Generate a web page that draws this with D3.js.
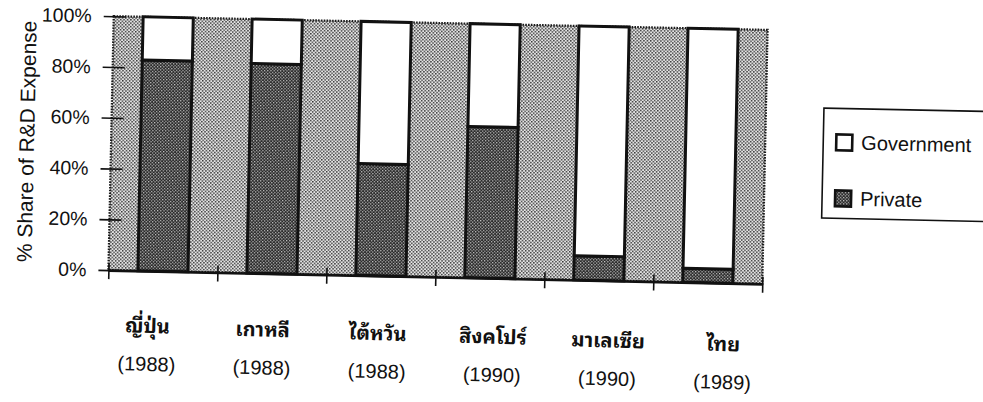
<!DOCTYPE html>
<html>
<head>
<meta charset="utf-8">
<script src="https://cdn.jsdelivr.net/npm/d3@7"></script>
<style>
  html, body { margin: 0; padding: 0; background: #ffffff; }
  svg { display: block; }
  .lat { font-family: "Liberation Sans", Arial, sans-serif; fill: #111; }
  .thai { font-family: "Noto Sans Thai Looped", "Garuda", "Loma", "Laksaman", "Norasi", "Tlwg Typo", "Noto Sans Thai", sans-serif; font-weight: bold; fill: #111; }
</style>
</head>
<body>
<svg id="chart" width="983" height="402"></svg>
<script>
// Country labels (Thai) and the survey year of each figure
const categories = ["ญี่ปุ่น", "เกาหลี", "ไต้หวัน", "สิงคโปร์", "มาเลเซีย", "ไทย"];
const years = ["(1988)", "(1988)", "(1988)", "(1990)", "(1990)", "(1989)"];

// Share of R&D expense by source, in percent
const privateShare = [83, 82.5, 44, 59.5, 9.5, 5.5];
const governmentShare = [17, 17.5, 56, 40.5, 90.5, 94.5];

const seriesNames = ["Private", "Government"];
const legendOrder = ["Government", "Private"];
const yTickValues = [0, 20, 40, 60, 80, 100];

const svg = d3.select("#chart");
const defs = svg.append("defs");

// Light halftone used behind the bars
const bgPat = defs.append("pattern")
  .attr("id", "halftoneLight").attr("patternUnits", "userSpaceOnUse")
  .attr("width", 3.4).attr("height", 3.4);
bgPat.append("rect").attr("width", 3.4).attr("height", 3.4).attr("fill", "#e4e4e4");
bgPat.append("rect").attr("x", 0).attr("y", 0).attr("width", 1.45).attr("height", 1.45).attr("fill", "#333");
bgPat.append("rect").attr("x", 1.7).attr("y", 1.7).attr("width", 1.45).attr("height", 1.45).attr("fill", "#333");

// Dark hatched halftone for the private share
const pvPat = defs.append("pattern")
  .attr("id", "halftoneDark").attr("patternUnits", "userSpaceOnUse")
  .attr("width", 3.2).attr("height", 3.2);
pvPat.append("rect").attr("width", 3.2).attr("height", 3.2).attr("fill", "#2a2a2a");
pvPat.append("rect").attr("x", 0).attr("y", 0).attr("width", 1.2).attr("height", 1.2).attr("fill", "#c8c8c8");
pvPat.append("rect").attr("x", 1.6).attr("y", 1.6).attr("width", 1.2).attr("height", 1.2).attr("fill", "#c8c8c8");

const fills = { Private: "url(#halftoneDark)", Government: "#ffffff" };

// The whole figure sits slightly tilted on the page
const g = svg.append("g").attr("transform", "rotate(1.2, 438, 150)");

const x0 = 111, x1 = 765, yTop = 23, yBot = 277;

const x = d3.scaleBand().domain(categories).range([x0, x1])
  .paddingInner(0.54).paddingOuter(0.27);
const xEdge = d3.scaleLinear().domain([0, categories.length]).range([x0, x1]);
const y = d3.scaleLinear().domain([0, 100]).range([yBot, yTop]);
const xLabel = d3.scalePoint().domain(categories).range([151, 727]);

// Plot background with dotted frame
g.append("rect")
  .attr("x", x0).attr("y", yTop).attr("width", x1 - x0).attr("height", yBot - yTop)
  .attr("fill", "url(#halftoneLight)")
  .attr("stroke", "#1a1a1a").attr("stroke-width", 2.2).attr("stroke-dasharray", "1.6 1.2");

// Stacked bars
const rows = categories.map((c, i) => ({ cat: c, Private: privateShare[i], Government: governmentShare[i] }));
const stacked = d3.stack().keys(seriesNames)(rows);

g.append("g").selectAll("g").data(stacked).join("g")
  .attr("fill", d => fills[d.key])
  .selectAll("rect").data(d => d).join("rect")
  .attr("x", d => x(d.data.cat))
  .attr("width", x.bandwidth())
  .attr("y", d => y(d[1]))
  .attr("height", d => y(d[0]) - y(d[1]))
  .attr("stroke", "#111").attr("stroke-width", 3);

// Y axis with crossing tick marks
const yAxis = g.append("g").attr("transform", `translate(${x0},0)`)
  .call(d3.axisLeft(y).tickValues(yTickValues).tickFormat(d => d + "%").tickSize(10).tickPadding(12));
yAxis.select(".domain").remove();
yAxis.selectAll(".tick line").attr("x1", 12).attr("stroke", "#111").attr("stroke-width", 1.6);
yAxis.selectAll(".tick text").attr("class", "lat").style("font-size", "19.5px");

// X axis baseline with crossing ticks at category boundaries
const xAxis = g.append("g").attr("transform", `translate(0,${yBot})`)
  .call(d3.axisBottom(xEdge).tickValues(d3.range(categories.length + 1)).tickFormat("").tickSize(9).tickSizeOuter(0));
xAxis.select(".domain").attr("stroke", "#111").attr("stroke-width", 2.6);
xAxis.selectAll(".tick line").attr("y1", -7).attr("stroke", "#111").attr("stroke-width", 1.6);

// Category labels, typed on a slightly steeper line than the axis
const labels = g.append("g").attr("transform", "rotate(0.6, 727, 365)");

labels.append("g").selectAll("text").data(categories).join("text")
  .attr("class", "thai")
  .attr("x", d => xLabel(d)).attr("y", 345)
  .attr("text-anchor", "middle").style("font-size", "20px")
  .text(d => d);

labels.append("g").selectAll("text").data(categories).join("text")
  .attr("class", "lat")
  .attr("x", d => xLabel(d)).attr("y", 383)
  .attr("text-anchor", "middle").style("font-size", "20px")
  .text((d, i) => years[i]);

// Y axis title
g.append("text").attr("class", "lat")
  .attr("transform", `translate(34,${(yTop + yBot) / 2}) rotate(-90)`)
  .attr("text-anchor", "middle").style("font-size", "21px")
  .text("% Share of R&D Expense");

// Legend
const lg = g.append("g");
lg.append("rect").attr("x", 823).attr("y", 100).attr("width", 200).attr("height", 110)
  .attr("fill", "#ffffff").attr("stroke", "#111").attr("stroke-width", 1.6);
const items = lg.selectAll("g.item").data(legendOrder).join("g")
  .attr("class", "item")
  .attr("transform", (d, i) => `translate(836,${134 + i * 56})`);
items.append("rect").attr("x", 0).attr("y", -8).attr("width", 16).attr("height", 16)
  .attr("fill", d => fills[d]).attr("stroke", "#111").attr("stroke-width", 2.6);
items.append("text").attr("class", "lat")
  .attr("x", 25).attr("y", 7).style("font-size", "20px")
  .text(d => d);
</script>
</body>
</html>
